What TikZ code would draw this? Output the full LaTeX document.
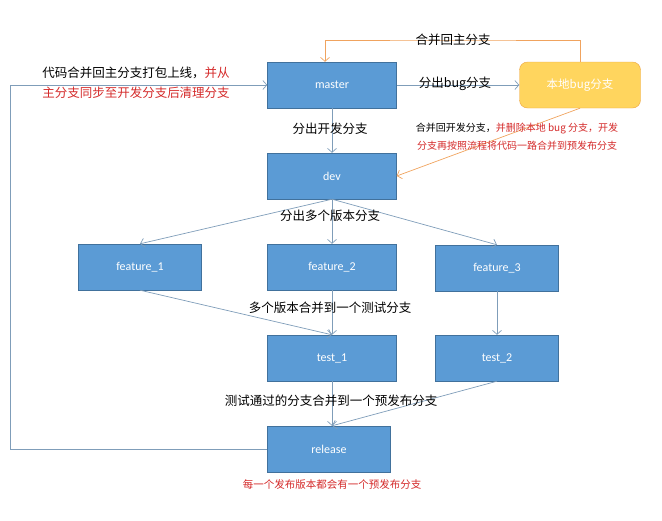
\documentclass[tikz,border=0pt]{standalone}
\usepackage{fontspec}
\setmainfont{Noto Sans CJK SC}
\newfontfamily\boxfont{Carlito}
\usetikzlibrary{arrows.meta}
\definecolor{branchblue}{HTML}{5B9BD5}
\definecolor{branchedge}{HTML}{41719C}
\definecolor{bugyellow}{HTML}{FFD55E}
\definecolor{bugedge}{HTML}{EDA440}
\definecolor{flowline}{HTML}{7F9DB9}
\definecolor{mergeline}{HTML}{F0A35E}
\definecolor{notered}{HTML}{D42A2A}

\begin{document}
\begin{tikzpicture}[x=1pt, y=-1pt,
  branch/.style = {shape=rectangle, draw=branchedge, fill=branchblue,
    text=white, minimum width=129pt, minimum height=46pt,
    font=\boxfont\fontsize{12}{14}\selectfont},
  bugbox/.style = {shape=rectangle, rounded corners=8pt, draw=bugedge,
    fill=bugyellow, text=white, minimum width=121pt, minimum height=46pt,
    font=\fontsize{11.5}{13}\selectfont},
  flow/.style = {draw=flowline, line width=0.7pt, -{Straight Barb[length=4pt,width=9pt]}},
  merge/.style = {draw=mergeline, line width=0.7pt, -{Straight Barb[length=4pt,width=9pt]}},
  note/.style = {align=center, inner sep=0pt, font=\fontsize{12.5}{20}\selectfont},
  smallnote/.style = {align=center, inner sep=0pt, font=\fontsize{10}{18}\selectfont}]
  \useasboundingbox (0,0) rectangle (662,520);

  % branches
  \node[branch] (master) at (332,85) {master};
  \node[bugbox] (bug) at (580,85) {本地bug分支};
  \node[branch] (dev) at (332,176) {dev};
  \node[branch, minimum width=123pt] (feature1) at (140,267) {feature\_1};
  \node[branch] (feature2) at (332,267) {feature\_2};
  \node[branch, minimum width=123pt] (feature3) at (497,268) {feature\_3};
  \node[branch] (test1) at (332,358) {test\_1};
  \node[branch, minimum width=123pt] (test2) at (497,358) {test\_2};
  \node[branch, minimum width=123pt] (release) at (329,449) {release};

  % connectors
  \coordinate (mergetop) at (453,40);
  \coordinate (loopcorner) at (10,449);
  \draw[flow] (master) -- (dev);
  \draw[flow] (master) -- (bug);
  \draw[merge] (bug.north) |- (mergetop) -| ([xshift=-7pt]master.north);
  \draw[merge] (bug.south) -- (dev.east);
  \draw[flow] (dev.south) -- (feature1.north);
  \draw[flow] (dev) -- (feature2);
  \draw[flow] (dev.south) -- (feature3.north);
  \draw[flow] (feature1.south) -- (test1.north);
  \draw[flow] (feature2) -- (test1);
  \draw[flow] (feature3) -- (test2);
  \draw[flow] (test1.south) -- ([xshift=3pt]release.north);
  \draw[flow] (test2.south) -- ([xshift=3pt]release.north);
  \draw[flow] (release.west) -- (loopcorner) |- (master.west);

  % labels
  \node[note] (backnote) at (136,83) {代码合并回主分支打包上线，\textcolor{notered}{并从}\\\textcolor{notered}{主分支同步至开发分支后清理分支}};
  \node[note] (devnote) at (330,129) {分出开发分支};
  \node[note] (bugnote) at (455,84) {分出bug分支};
  \node[note] (mergenote) at (453,40) {合并回主分支};
  \node[smallnote] (fixnote) at (517,137) {合并回开发分支，\textcolor{notered}{并删除本地 bug 分支，开发}\\\textcolor{notered}{分支再按照流程将代码一路合并到预发布分支}};
  \node[note] (featurenote) at (330,216) {分出多个版本分支};
  \node[note] (testnote) at (330,308) {多个版本合并到一个测试分支};
  \node[note] (releasenote) at (331,401) {测试通过的分支合并到一个预发布分支};
  \node[smallnote, text=notered, font=\fontsize{10.5}{13}\selectfont] (everynote) at (332,484) {每一个发布版本都会有一个预发布分支};
\end{tikzpicture}
\end{document}
